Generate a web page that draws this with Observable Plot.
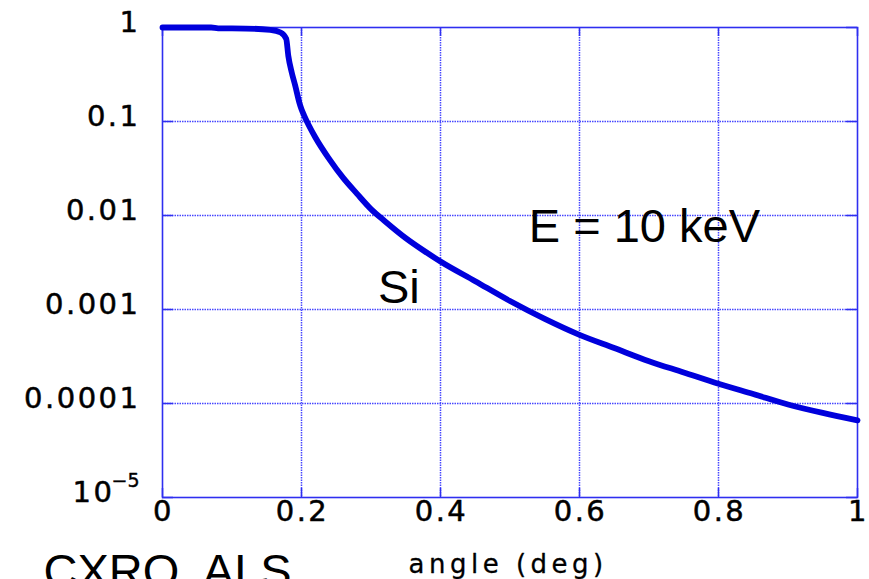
<!DOCTYPE html>
<html>
<head>
<meta charset="utf-8">
<script src="https://cdn.jsdelivr.net/npm/d3@7"></script>
<script src="https://cdn.jsdelivr.net/npm/@observablehq/plot@0.6"></script>
<style>
  html, body { margin: 0; padding: 0; background: #fff; overflow: hidden; }
  #chart svg { display: block; }
  .tick-label { letter-spacing: 2.5px; }
  .axis-title { letter-spacing: 4.5px; }
</style>
</head>
<body>
<div id="chart"></div>
<script>
// X-ray reflectivity of Si at E = 10 keV versus grazing angle
const angle = [0, 0.07, 0.08, 0.12, 0.155, 0.170, 0.178, 0.181, 0.186, 0.191, 0.197, 0.200, 0.204,
  0.22, 0.24, 0.26, 0.28, 0.30, 0.32, 0.35, 0.375, 0.40, 0.45, 0.50, 0.55, 0.60, 0.65,
  0.70, 0.75, 0.80, 0.85, 0.90, 0.95, 1.0];
const reflectivity = [1.0, 1.0, 0.98, 0.975, 0.944, 0.885, 0.759, 0.501, 0.331, 0.240, 0.158, 0.135, 0.115,
  0.0676, 0.0398, 0.0251, 0.0170, 0.0117, 0.0087, 0.00575, 0.00427, 0.00324, 0.00200, 0.00123, 0.000794, 0.000537, 0.000389,
  0.000282, 0.000214, 0.000162, 0.000126, 0.0000977, 0.0000794, 0.0000661];

const xTicks = [0, 0.2, 0.4, 0.6, 0.8, 1];
const xTickLabels = ["0", "0.2", "0.4", "0.6", "0.8", "1"];
const yTicks = [1, 0.1, 0.01, 0.001, 0.0001, 0.00001];
const yTickLabels = ["1", "0.1", "0.01", "0.001", "0.0001", "10^-5"];

const xLabel = "angle (deg)";
const energyNote = "E = 10 keV";
const materialNote = "Si";
const sourceNote = "CXRO, ALS";

const curve = angle.map((a, i) => ({angle: a, R: reflectivity[i]}));
const yLabels = yTicks.map((v, i) => {
  const [base, exp] = yTickLabels[i].split("^");
  return {v, base, exp: exp ? exp.replace("-", "\u2212") : null};
});

// frame chosen so every grid line falls on a whole pixel
const W = 869, H = 579;
const mL = 162, mR = 12, mT = 27, mB = 82;
const innerW = W - mL - mR, innerH = H - mT - mB;
const frameBlue = "#2f2ff0";
const gridBlue = "#4646ff";
const curveBlue = "#0000dc";
const tickFont = "DejaVu Sans, sans-serif";
const noteFont = "Liberation Sans, Arial, sans-serif";
const tickText = {fontSize: 29, fontFamily: tickFont, fill: "#000", stroke: "#000", strokeWidth: 0.5, className: "tick-label"};
const gridStyle = {stroke: gridBlue, strokeWidth: 1.5, strokeDasharray: "1.5,1"};

const chart = Plot.plot({
  width: W,
  height: H,
  marginLeft: mL, marginRight: mR, marginTop: mT, marginBottom: mB,
  x: {domain: [0, 1], axis: null},
  y: {type: "log", domain: [1e-5, 1], axis: null},
  marks: [
    // dotted grid
    Plot.ruleX(xTicks.slice(1, -1), {x: d => d, ...gridStyle}),
    Plot.ruleY(yTicks.slice(1, -1), {y: d => d, ...gridStyle}),
    // inward ticks on all four sides
    Plot.ruleY(yTicks, {y: d => d, insetRight: innerW - 11, stroke: frameBlue, strokeWidth: 1.5}),
    Plot.ruleY(yTicks, {y: d => d, insetLeft: innerW - 11, stroke: frameBlue, strokeWidth: 1.5}),
    Plot.ruleX(xTicks, {x: d => d, insetTop: innerH - 9, stroke: frameBlue, strokeWidth: 1.5}),
    Plot.ruleX(xTicks, {x: d => d, insetBottom: innerH - 9, stroke: frameBlue, strokeWidth: 1.5}),
    Plot.frame({stroke: frameBlue, strokeWidth: 1.6}),
    // reflectivity curve
    Plot.line(curve, {x: "angle", y: "R", stroke: curveBlue, strokeWidth: 5.8, curve: "monotone-x", strokeLinejoin: "round"}),
    // x tick labels
    Plot.text(xTicks, {x: d => d, text: (d, i) => xTickLabels[i], frameAnchor: "bottom", lineAnchor: "top",
      dy: 3, dx: 1, ...tickText}),
    // y tick labels
    Plot.text(yLabels.filter(d => !d.exp), {y: "v", text: "base", frameAnchor: "left", textAnchor: "end",
      dx: -22, dy: -5, ...tickText}),
    Plot.text(yLabels.filter(d => d.exp), {y: "v", text: "base", frameAnchor: "left", textAnchor: "end",
      dx: -48, dy: -5, ...tickText}),
    Plot.text(yLabels.filter(d => d.exp), {y: "v", text: "exp", frameAnchor: "left", textAnchor: "start",
      dx: -51, dy: -17, fontSize: 19, fontFamily: tickFont, fill: "#000", stroke: "#000", strokeWidth: 0.4}),
    // annotations
    Plot.text([energyNote], {x: 0.527, y: 0.0052, text: d => d, textAnchor: "start", lineAnchor: "bottom",
      fontSize: 47, fontFamily: noteFont, fill: "#000"}),
    Plot.text([materialNote], {x: 0.310, y: 0.00117, text: d => d, textAnchor: "start", lineAnchor: "bottom",
      fontSize: 47, fontFamily: noteFont, fill: "#000"}),
    Plot.text([xLabel], {x: 0.354, text: d => d, frameAnchor: "bottom", textAnchor: "start", lineAnchor: "bottom",
      dy: 75, fontSize: 26, fontFamily: tickFont, fill: "#000", stroke: "#000", strokeWidth: 0.3, className: "axis-title"}),
    Plot.text([sourceNote], {frameAnchor: "bottom-left", text: d => d, textAnchor: "start", lineAnchor: "bottom",
      dx: -119, dy: 89, fontSize: 47, fontFamily: noteFont, fill: "#000"})
  ]
});

document.getElementById("chart").append(chart);
</script>
</body>
</html>
